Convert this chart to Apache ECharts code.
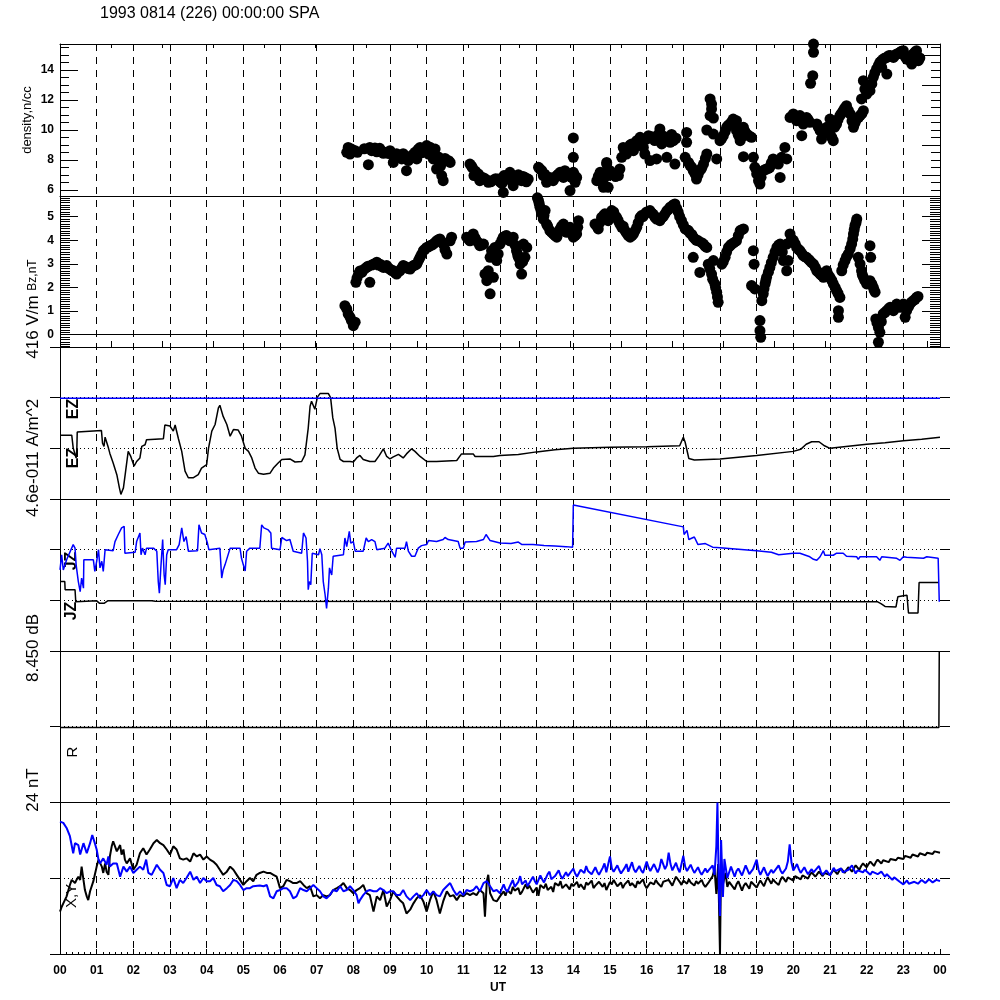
<!DOCTYPE html>
<html><head><meta charset="utf-8">
<script src="https://cdn.jsdelivr.net/npm/echarts@6/dist/echarts.min.js"></script>
<style>html,body{margin:0;padding:0;background:#fff}#c{width:1000px;height:1000px}</style>
</head><body><div id="c"></div>
<script>
const titleText = '1993 0814 (226) 00:00:00 SPA';
const hourLabels = ['00','01','02','03','04','05','06','07','08','09','10','11','12','13','14','15','16','17','18','19','20','21','22','23','00'];
const densityTicks = [6,8,10,12,14];
const densityRightTicks = [7,9,11,13,15];
const bzTicks = [0,1,2,3,4,5];

const densityData = [
[7.82,8.51],[7.86,8.84],[7.91,8.40],[7.95,8.73],[8.05,8.62],[8.11,8.51],[8.41,7.69],
[8.45,8.84],[8.50,8.62],[8.59,8.80],[8.68,8.67],[8.77,8.58],[8.86,8.51],[8.95,8.44],[9.05,8.40],[9.09,7.84],[9.14,8.29],[9.23,8.18],[9.32,8.07],[9.41,8.18],[9.45,7.29],[9.50,7.96],[9.59,8.29],[9.68,8.51],[9.73,8.07],[9.82,8.84],[9.91,8.62],[10.00,8.96],[10.05,8.40],[10.14,8.62],[10.18,8.07],[10.23,8.73],[10.27,7.40],[10.35,7.84],[10.41,6.96],[10.45,6.62],[10.55,7.96],[10.64,7.84],
[8.30,8.75],[8.55,8.72],[8.64,8.55],[8.72,8.78],[8.82,8.45],[9.00,8.62],[9.18,8.42],[9.27,8.30],[9.36,8.42],[9.55,8.15],[9.64,8.38],[9.77,8.72],[9.86,8.48],[9.95,8.80],[10.09,8.85],[10.20,8.50],[10.32,8.20],[10.38,7.60],[10.50,8.10],[10.60,7.95],
[11.18,7.73],[11.25,7.47],[11.29,6.96],[11.41,7.07],[11.45,6.62],[11.56,6.80],[11.68,6.51],[11.82,6.67],[11.95,6.73],[12.05,6.44],[12.09,5.84],[12.11,6.96],[12.23,6.84],[12.27,7.18],[12.36,6.29],[12.41,6.73],[12.50,7.02],[12.59,6.62],[12.68,6.84],[12.77,6.73],
[11.22,7.60],[11.33,7.25],[11.38,6.90],[11.50,6.85],[11.62,6.70],[11.75,6.55],[11.88,6.75],[12.00,6.55],[12.16,6.70],[12.32,6.75],[12.46,6.85],[12.55,6.70],[12.63,6.90],[12.72,6.55],
[13.05,7.51],[13.14,7.29],[13.18,6.96],[13.27,6.51],[13.36,6.84],[13.45,6.62],[13.55,6.96],[13.64,7.18],[13.73,6.84],[13.77,7.29],[13.86,6.96],[13.91,5.96],[14.00,7.18],[14.05,6.51],[14.09,6.84],[14.00,8.18],[14.00,9.47],
[13.09,7.40],[13.22,7.05],[13.32,6.70],[13.41,6.75],[13.50,6.85],[13.59,7.05],[13.68,6.95],[13.82,7.10],[13.95,6.85],[14.03,7.00],
[14.64,6.62],[14.73,7.18],[14.82,6.18],[14.91,7.73],[14.95,6.96],
[14.77,6.84],[14.82,6.40],[14.86,6.96],[14.95,6.18],[15.00,7.29],[15.09,7.07],[14.91,7.84],[15.23,6.96],
[14.68,6.90],[14.78,6.55],[14.87,7.20],[15.05,7.15],[15.15,6.90],[15.27,7.40],
[15.32,8.18],[15.36,8.84],[15.45,8.40],[15.59,9.07],[15.64,8.62],[15.73,9.29],[15.82,9.51],[15.91,8.84],[15.95,8.40],[16.05,9.62],[16.09,7.96],[16.18,9.51],[16.27,8.07],[16.36,10.07],[16.41,9.07],[16.50,9.40],[16.55,8.18],[16.64,9.18],[16.73,9.29],[16.77,7.73],
[15.40,8.60],[15.50,8.80],[15.55,9.00],[15.68,8.90],[15.77,9.20],[15.86,9.30],[16.00,9.40],[16.13,9.55],[16.22,9.30],[16.32,9.70],[16.45,9.60],[16.60,9.50],[16.68,9.70],[16.80,9.45],
[17.09,9.84],[17.09,9.18],[17.05,8.18],[17.14,7.84],[17.23,7.51],[17.32,7.07],[17.36,6.73],[17.45,7.29],[17.55,7.73],[17.64,8.40],
[17.18,7.65],[17.27,7.30],[17.40,7.00],[17.50,7.45],[17.60,8.10],
[17.73,12.07],[17.77,11.73],[17.77,11.40],[17.73,10.96],[17.82,10.80],[17.64,10.00],[17.82,9.73],[17.91,8.07],
[18.00,9.29],[18.09,9.62],[18.18,10.18],[18.27,10.40],[18.36,10.73],[18.45,9.96],[18.55,9.29],[18.64,10.18],[18.73,9.73],[18.86,9.51],[18.64,8.22],[18.45,10.62],
[18.05,9.45],[18.14,9.90],[18.22,10.30],[18.32,10.55],[18.40,10.35],[18.50,9.65],[18.60,9.55],[18.68,9.90],[18.80,9.60],
[18.91,8.18],[18.95,7.51],[19.00,7.07],[19.05,6.62],[19.09,6.40],[19.18,7.29],[19.27,7.40],[19.36,7.51],[19.45,8.07],[19.59,7.73],[19.64,6.84],[19.68,8.18],[19.77,8.84],[19.82,8.07],
[19.12,6.85],[19.22,7.35],[19.32,7.45],[19.40,7.80],[19.50,7.90],
[19.91,10.84],[20.00,11.07],[20.09,10.62],[20.18,10.96],[20.27,10.40],[20.36,10.84],[20.45,10.51],[20.23,9.62],
[19.95,10.90],[20.05,10.85],[20.14,10.75],[20.32,10.60],[20.40,10.70],
[20.55,15.73],[20.55,15.18],[20.53,13.62],[20.47,13.11],
[20.64,10.40],[20.73,9.96],[20.77,9.40],[20.91,10.18],[21.00,9.73],[21.09,9.29],[21.00,10.73],[21.18,10.40],[21.27,10.96],[21.36,11.29],[21.45,11.62],[21.55,11.07],[21.64,10.18],[21.73,10.73],[21.82,10.96],[21.91,11.29],
[20.68,10.20],[20.82,9.80],[20.87,10.00],[20.95,9.90],[21.05,9.50],[21.13,10.20],[21.22,10.70],[21.31,11.10],[21.40,11.45],[21.50,11.30],[21.60,10.60],[21.68,10.45],[21.78,10.85],[21.87,11.10],
[21.86,12.07],[21.95,12.73],[21.91,13.29],[22.00,12.40],[22.09,12.62],[22.14,13.07],[22.18,13.51],
[22.27,14.07],[22.36,14.51],[22.45,14.73],[22.55,14.84],[22.64,14.96],[22.73,14.84],[22.82,15.07],[22.91,15.18],[23.00,15.29],[23.09,14.73],[23.18,14.84],[23.27,15.07],[23.36,15.29],[23.41,14.62],[23.23,14.40],[22.55,13.73],[22.41,14.18],
[22.22,13.80],[22.32,14.30],[22.40,14.60],[22.50,14.80],[22.60,14.95],[22.68,14.90],[22.78,15.00],[22.87,15.10],[22.95,15.25],[23.05,14.90],[23.14,14.70],[23.22,14.95],[23.32,15.20],[23.45,14.80]
];

const bzData = [
[7.77,1.23],[7.82,1.09],[7.86,0.88],[7.91,0.74],[7.95,0.60],[8.00,0.38],[8.05,0.53],
[8.07,2.22],[8.14,2.57],[8.23,2.64],[8.36,2.85],[8.45,2.22],[8.55,2.99],[8.64,3.07],[8.73,2.99],[8.82,2.85],[8.91,2.93],[9.00,2.78],[9.09,2.71],[9.18,2.57],[9.27,2.71],[9.36,2.93],[9.45,2.85],[9.55,2.78],[9.64,2.93],[9.73,2.99],[9.82,3.28],[9.91,3.56],[10.00,3.70],[10.09,3.77],[10.18,3.84],[10.27,3.98],[10.36,4.06],[10.45,3.84],[10.55,3.42],[10.64,3.98],[10.68,4.13],
[8.10,2.40],[8.18,2.70],[8.30,2.78],[8.40,2.90],[8.50,2.95],[8.60,3.02],[8.68,2.95],[8.78,2.90],[8.86,2.88],[8.95,2.82],[9.05,2.72],[9.14,2.62],[9.22,2.66],[9.32,2.82],[9.40,2.90],[9.50,2.80],[9.60,2.88],[9.68,2.95],[9.78,3.15],[9.86,3.40],[9.95,3.62],[10.05,3.72],[10.14,3.80],[10.23,3.90],[10.32,4.02],[10.40,3.95],[10.50,3.60],
[11.09,4.13],[11.18,3.98],[11.27,4.27],[11.36,3.98],[11.45,3.77],[11.55,3.84],
[11.14,4.05],[11.23,4.15],[11.32,4.10],[11.41,3.90],[11.50,3.80],
[11.59,2.57],[11.64,2.29],[11.68,2.43],[11.73,1.73],[11.82,2.43],[11.68,2.71],[11.73,3.28],[11.77,3.56],[11.86,3.70],[11.91,3.14],[11.95,3.42],[12.00,3.84],[12.09,4.13],[12.18,4.20],[12.27,3.98],[12.36,4.13],[12.45,3.56],[12.50,3.28],[12.55,2.99],[12.59,2.57],[12.68,3.28],[12.73,3.70],[12.64,3.84],
[12.05,4.00],[12.14,4.18],[12.23,4.05],[12.32,4.02],[12.41,3.80],[12.48,3.40],[12.62,3.10],
[13.05,5.68],[13.09,5.40],[13.14,5.12],[13.18,4.90],[13.23,5.26],[13.27,4.69],[13.36,4.41],[13.45,4.27],[13.55,4.13],[13.64,4.48],[13.73,4.69],[13.82,4.34],[13.91,4.55],[14.00,4.13],[14.09,4.27],[14.14,4.83],
[13.02,5.80],[13.07,5.55],[13.12,5.25],[13.20,5.05],[13.30,4.60],[13.40,4.35],[13.50,4.20],[13.59,4.30],[13.68,4.60],[13.77,4.50],[13.86,4.45],[13.95,4.30],[14.05,4.20],[14.12,4.55],
[14.59,4.69],[14.68,4.48],[14.77,4.97],[14.86,5.12],[14.95,4.83],
[15.05,5.26],[15.18,4.97],[15.27,4.69],[15.41,4.41],[15.55,4.13],[15.64,4.27],[15.73,4.55],[15.82,4.97],[15.95,5.12],[16.09,5.26],[16.23,4.97],[16.36,4.83],[16.50,5.12],[16.64,5.40],[16.77,5.54],[16.86,5.19],
[14.64,4.60],[14.72,4.75],[14.82,5.05],[14.90,5.00],[15.00,5.15],[15.10,5.20],[15.14,5.05],[15.22,4.85],[15.32,4.55],[15.36,4.60],[15.45,4.30],[15.50,4.20],[15.60,4.20],[15.68,4.40],[15.77,4.75],[15.86,5.05],[15.90,5.00],[16.00,5.20],[16.14,5.15],[16.18,5.10],[16.27,4.90],[16.32,4.95],[16.41,4.95],[16.45,5.00],[16.55,5.25],[16.59,5.30],[16.70,5.45],[16.72,5.50],[16.82,5.35],[16.90,5.00],
[16.95,4.83],[17.05,4.48],[17.14,4.41],[17.27,4.13],[17.41,3.98],[17.55,3.84],[17.64,3.70],[17.27,3.28],[17.45,2.64],
[17.00,4.65],[17.09,4.45],[17.18,4.30],[17.23,4.25],[17.32,4.05],[17.36,4.00],[17.50,3.90],[17.59,3.75],
[17.68,2.99],[17.77,2.57],[17.86,2.15],[17.91,1.80],[17.95,1.37],[17.82,3.14],
[17.72,2.80],[17.80,2.35],[17.88,2.00],[17.93,1.60],
[18.05,2.99],[18.14,3.28],[18.23,3.70],[18.32,3.84],[18.45,3.98],[18.55,4.41],[18.64,4.48],
[18.09,3.10],[18.18,3.50],[18.28,3.78],[18.38,3.90],[18.50,4.20],[18.60,4.45],
[18.91,3.56],[18.93,2.99],[18.86,2.08],[18.95,1.94],[19.09,0.60],[19.09,0.17],[19.11,-0.11],[19.14,1.44],[19.18,1.73],[19.23,2.15],[19.27,2.43],[19.36,2.85],[19.45,3.28],[19.55,3.70],[19.64,3.84],[19.73,3.14],[19.82,3.84],[19.86,3.14],[19.82,2.71],[19.91,4.27],[19.95,4.06],
[19.20,1.95],[19.25,2.30],[19.32,2.65],[19.40,3.05],[19.50,3.50],[19.60,3.80],[19.70,3.50],
[20.09,3.70],[20.18,3.56],[20.27,3.35],[20.36,3.28],[20.45,3.14],[20.55,2.99],[20.64,2.71],[20.73,2.57],[20.82,2.43],[20.91,2.71],[21.00,2.43],[21.09,2.15],[21.18,1.87],[21.27,1.58],[21.23,1.02],[21.23,0.74],
[20.00,4.00],[20.05,3.85],[20.14,3.62],[20.23,3.45],[20.32,3.30],[20.41,3.20],[20.50,3.05],[20.60,2.85],[20.68,2.65],[20.78,2.50],[20.86,2.55],[20.95,2.55],[21.05,2.30],[21.14,2.00],[21.22,1.75],
[21.32,2.71],[21.41,3.14],[21.50,3.42],[21.59,3.84],[21.64,4.27],[21.68,4.62],[21.73,4.90],
[21.36,2.95],[21.45,3.30],[21.55,3.65],[21.62,4.05],[21.66,4.45],[21.71,4.75],
[21.77,3.28],[21.86,2.71],[21.91,2.43],[22.00,2.15],[22.09,2.29],[22.18,2.01],[22.23,1.80],[22.09,3.77],[22.11,3.28],
[21.82,3.00],[21.88,2.55],[21.95,2.30],[22.05,2.20],[22.14,2.15],[22.20,1.90],
[22.25,0.67],[22.32,0.31],[22.36,0.10],[22.32,-0.32],[22.45,0.88],[22.55,1.02],[22.64,1.16],[22.73,1.02],[22.82,1.30],[22.91,1.16],[23.00,1.30],[23.09,1.02],[23.18,1.30],[23.27,1.44],[23.36,1.58],[23.05,0.74],
[22.28,0.50],[22.40,0.55],[22.50,0.95],[22.60,1.10],[22.68,1.10],[22.78,1.15],[22.86,1.25],[22.95,1.22],[23.04,1.15],[23.14,1.18],[23.22,1.38],[23.32,1.50],[23.40,1.62]
];

const ezBlack = [
[0,1.26],[0.32,1.26],[0.36,1.01],[0.41,0.88],[0.44,0.81],[0.46,1.0],[0.47,1.32],[0.5,1.35],[1.13,1.35],[1.16,1.1],[1.2,1.04],[1.23,1.22],[1.27,1.19],[1.32,1.01],[1.36,0.9],[1.45,0.71],[1.55,0.48],[1.62,0.22],[1.66,0.09],[1.73,0.22],[1.79,0.55],[1.86,0.94],[1.93,0.84],[2.02,0.65],[2.09,0.74],[2.18,0.81],[2.23,1.04],[2.32,1.07],[2.36,1.17],[2.82,1.19],[2.86,1.46],[3.0,1.44],[3.09,1.34],[3.14,1.46],[3.23,1.19],[3.32,0.94],[3.41,0.55],[3.5,0.42],[3.64,0.42],[3.77,0.48],[3.86,0.61],[4.0,0.68],[4.05,1.0],[4.14,1.34],[4.23,1.47],[4.32,1.8],[4.36,1.85],[4.41,1.83],[4.45,1.63],[4.55,1.47],[4.64,1.24],[4.73,1.37],[4.86,1.36],[4.95,1.24],[5.05,1.0],[5.14,0.94],[5.23,0.81],[5.32,0.61],[5.41,0.51],[5.55,0.49],[5.73,0.51],[5.82,0.61],[5.95,0.71],[6.05,0.78],[6.27,0.79],[6.41,0.73],[6.59,0.74],[6.68,0.87],[6.77,1.4],[6.82,1.83],[6.86,1.93],[6.95,1.77],[7.02,2.01],[7.09,2.08],[7.32,2.08],[7.38,2.0],[7.44,1.6],[7.5,1.4],[7.56,1.0],[7.64,0.78],[7.73,0.74],[7.91,0.74],[8.0,0.73],[8.09,0.81],[8.18,0.86],[8.27,0.78],[8.45,0.74],[8.59,0.74],[8.71,0.86],[8.82,0.99],[8.91,0.84],[9.0,0.79],[9.09,0.83],[9.23,0.88],[9.36,0.81],[9.45,0.89],[9.59,0.99],[9.68,0.94],[9.82,0.84],[10.0,0.74],[10.27,0.74],[10.82,0.76],[10.95,0.89],[11.27,0.89],[11.32,0.84],[11.82,0.84],[12.0,0.86],
[12.5,0.88],[13.0,0.93],[13.5,0.97],[14.0,1.0],[15.0,1.02],[16.0,1.03],[16.9,1.05],[17.0,1.22],[17.05,1.12],[17.15,0.8],[17.3,0.77],[18.0,0.79],[19.0,0.86],[20.0,0.94],[20.2,0.98],[20.35,1.08],[20.5,1.13],[20.7,1.13],[20.85,1.05],[21.0,1.0],[21.5,1.04],[22.0,1.08],[22.5,1.11],[23.0,1.15],[23.5,1.18],[24.0,1.22]
];
const ezBlue = [[0,1.99],[2.2,1.99],[2.21,2.01],[2.22,1.99],[7.6,1.99],[7.61,2.01],[7.62,1.99],[16.8,1.99],[16.81,2.01],[16.82,1.99],[24,1.99]];

const jzBlack = [[0,1.37],[0.13,1.37],[0.14,1.21],[0.41,1.21],[0.43,0.97],[1.0,0.99],[1.08,0.94],[1.2,0.94],[1.3,0.99],[2.5,0.99],[2.6,0.98],[22.3,0.97],[22.4,0.93],[22.5,0.88],[22.8,0.87],[22.85,1.07],[23.0,1.09],[23.1,1.1],[23.14,0.75],[23.4,0.75],[23.43,1.35],[23.97,1.35]];
const jzBlue = [
[0,1.6],[0.045,1.9],[0.09,1.6],[0.18,1.8],[0.36,2.1],[0.41,2.03],[0.44,1.7],[0.5,1.37],[0.55,1.17],[0.59,1.44],[0.64,1.24],[0.65,1.8],[0.91,1.8],[0.95,1.57],[1.0,1.77],[1.05,2.0],[1.09,1.64],[1.14,1.77],[1.18,1.57],[1.23,2.0],[1.45,1.98],[1.5,2.16],[1.59,2.3],[1.68,2.43],[1.75,2.46],[1.77,1.93],[2.05,1.95],[2.09,2.16],[2.18,2.33],[2.21,1.9],[2.25,2.03],[2.32,1.9],[2.36,2.03],[2.55,2.03],[2.64,1.97],[2.68,1.37],[2.71,1.14],[2.75,1.64],[2.8,2.2],[2.84,1.5],[2.87,1.31],[2.91,1.9],[2.95,2.0],[3.18,2.0],[3.25,2.1],[3.32,2.43],[3.38,2.16],[3.44,2.26],[3.5,1.97],[3.75,1.98],[3.79,2.49],[3.86,2.33],[3.95,2.3],[4.02,2.13],[4.06,2.0],[4.36,2.03],[4.41,1.44],[4.45,1.6],[4.5,1.7],[4.64,2.03],[4.91,2.03],[4.95,1.83],[5.0,1.7],[5.05,1.58],[5.09,1.97],[5.18,2.03],[5.45,2.03],[5.5,2.49],[5.56,2.43],[5.68,2.39],[5.75,2.33],[5.77,2.03],[6.0,2.0],[6.05,2.24],[6.18,2.18],[6.27,2.2],[6.36,1.97],[6.59,1.93],[6.64,2.33],[6.71,2.23],[6.75,1.77],[6.77,1.21],[6.8,1.37],[6.84,1.31],[6.88,1.93],[7.05,1.9],[7.09,2.02],[7.14,1.9],[7.18,1.37],[7.23,1.11],[7.27,0.84],[7.32,1.24],[7.35,1.64],[7.41,1.5],[7.45,1.87],[7.73,1.9],[7.77,2.23],[7.82,2.06],[7.89,2.36],[7.93,2.13],[8.0,2.16],[8.05,1.97],[8.27,1.97],[8.35,2.23],[8.41,2.16],[8.5,2.2],[8.59,2.16],[8.64,2.0],[8.86,2.03],[8.95,2.13],[9.05,1.97],[9.14,1.85],[9.18,2.03],[9.41,2.03],[9.45,2.16],[9.5,1.97],[9.59,1.87],[9.68,1.87],[9.77,2.03],[9.86,2.08],[10.0,2.1],[10.05,2.18],[10.27,2.16],[10.45,2.2],[10.5,2.24],[10.59,2.2],[10.86,2.16],[10.91,2.03],[11.0,2.03],[11.05,2.15],[11.36,2.16],[11.55,2.2],[11.62,2.3],[11.73,2.18],[12.0,2.13],
[12.3,2.12],[12.5,2.15],[12.6,2.1],[12.9,2.1],[13.2,2.08],[13.5,2.07],[13.8,2.06],[13.98,2.05],[14.0,2.88],[17.0,2.45],[17.02,2.3],[17.1,2.38],[17.15,2.2],[17.3,2.25],[17.4,2.1],[17.6,2.12],[17.8,2.05],[18.0,2.04],[18.5,2.01],[19.0,1.98],[19.4,1.95],[19.6,1.9],[20.0,1.93],
[20.18,1.93],[20.45,1.86],[20.55,1.81],[20.64,1.79],[20.73,1.86],[20.82,1.98],[20.86,1.89],[21.09,1.89],[21.18,1.93],[21.36,1.93],[21.45,1.87],[21.73,1.86],[21.77,1.81],[21.82,1.86],[22.27,1.86],[22.36,1.79],[22.41,1.86],[22.82,1.83],[22.91,1.79],[23.0,1.86],[23.09,1.85],[23.55,1.83],[23.64,1.86],[23.95,1.83],[23.98,0.97]
];

const rData = [[0,-0.05],[6,-0.06],[12,-0.05],[18,-0.06],[23.97,-0.05],[23.98,4.2]];

const xBlack = [
[0,-5.3],[0.05,-4.5],[0.09,-4.0],[0.18,-2.9],[0.23,-1.9],[0.27,-1.1],[0.32,-0.3],[0.36,0.0],[0.41,-0.8],[0.45,-0.3],[0.5,0.2],[0.55,-0.3],[0.59,1.8],[0.64,-0.3],[0.68,-1.9],[0.73,-2.9],[0.77,-3.5],[0.82,-2.1],[0.91,-0.5],[0.95,0.5],[1.0,1.8],[1.05,2.9],[1.09,3.1],[1.14,1.8],[1.18,0.8],[1.23,2.3],[1.27,1.0],[1.32,0.5],[1.36,3.4],[1.41,5.0],[1.45,5.8],[1.5,5.5],[1.55,4.2],[1.59,4.5],[1.64,5.2],[1.68,3.7],[1.73,4.5],[1.77,2.9],[1.82,2.3],[1.91,3.1],[2.0,1.3],[2.09,2.1],[2.18,3.9],[2.27,4.7],[2.36,3.7],[2.45,4.5],[2.55,5.5],[2.64,6.0],[2.73,5.5],[2.82,5.2],[2.91,4.5],[3.0,3.7],[3.09,5.0],[3.18,4.5],[3.27,3.1],[3.36,2.9],[3.45,3.1],[3.55,2.6],[3.64,3.9],[3.73,3.4],[3.82,3.7],[3.91,2.9],[4.0,3.4],[4.09,2.9],[4.18,2.6],[4.27,2.1],[4.36,1.3],[4.45,0.5],[4.55,1.0],[4.64,1.8],[4.73,1.3],[4.82,0.5],[4.91,-0.3],[5.0,-1.1],[5.09,-0.5],[5.18,0.0],[5.27,-0.5],[5.36,0.5],[5.45,0.8],[5.55,1.0],[5.64,0.8],[5.73,0.8],[5.82,0.5],[5.91,0.2],[6.0,-1.6],[6.09,-1.3],[6.18,-0.3],[6.27,-0.5],[6.36,-0.8],[6.45,-0.8],[6.55,-0.5],[6.64,-1.1],[6.73,-1.6],[6.82,-1.3],[6.91,-2.9],[7.0,-2.7],[7.09,-3.2],[7.18,-2.7],[7.27,-2.9],[7.36,-2.7],[7.45,-1.9],[7.55,-1.6],[7.64,-1.3],[7.73,-0.8],[7.82,-1.6],[7.91,-1.9],[8.0,-2.4],[8.09,-1.9],[8.18,-1.6],[8.27,-1.1],[8.36,-2.4],[8.45,-2.7],[8.55,-5.3],[8.64,-2.9],[8.73,-3.5],[8.82,-1.9],[8.91,-4.5],[9.0,-3.5],[9.09,-2.1],[9.18,-2.9],[9.27,-3.5],[9.36,-4.0],[9.45,-5.6],[9.55,-5.0],[9.64,-4.0],[9.73,-3.2],[9.82,-2.7],[9.91,-3.7],[10.0,-5.3],[10.09,-3.5],[10.18,-2.1],[10.27,-3.5],[10.36,-5.6],[10.45,-3.7],[10.55,-2.1],[10.64,-2.9],[10.73,-2.7],[10.82,-3.5],[10.91,-2.7],[11.0,-2.9],[11.09,-2.4],[11.18,-2.7],[11.27,-2.4],[11.36,-2.7],[11.45,-1.9],[11.55,-2.4],[11.59,-6.1],[11.64,-0.5],[11.68,0.5],[11.73,-2.4],[11.82,-3.5],[11.91,-3.7],[12.0,-2.9],
[12.1,-2.1],[12.15,-2.8],[12.2,-1.9],[12.3,-2.5],[12.35,-1.4],[12.4,-2.0],[12.5,-1.6],[12.55,-2.6],[12.6,-2.2],[12.7,-1.0],[12.75,-1.7],[12.8,-1.2],[12.9,-2.3],[13.0,-1.5],[13.05,-2.8],[13.1,-1.1],[13.2,-1.6],[13.25,-0.9],[13.3,-1.9],[13.4,-1.4],[13.45,-2.2],[13.5,-0.8],[13.6,-1.2],[13.65,-0.5],[13.7,-1.6],[13.8,-1.0],[13.9,-1.8],[13.95,-0.9],[14.0,-1.3],[14.1,-0.6],[14.15,-1.5],[14.2,-1.0],[14.3,-1.8],[14.35,-0.7],[14.4,-1.1],[14.5,-0.4],[14.55,-1.6],[14.6,-1.2],[14.7,-0.6],[14.8,-1.4],[14.85,-0.8],[14.9,-1.9],[15.0,-0.6],[15.05,-1.0],[15.1,-0.3],[15.2,-1.3],[15.3,-0.7],[15.35,-1.6],[15.4,-1.0],[15.5,-0.4],[15.55,-1.2],[15.6,-0.8],[15.7,-1.5],[15.75,-0.5],[15.8,-0.9],[15.9,-0.2],[15.95,-1.1],[16.0,-1.6],[16.1,-0.7],[16.2,-1.0],[16.25,-0.3],[16.3,-0.8],[16.4,-1.4],[16.45,-0.6],[16.5,-0.9],[16.6,-0.3],[16.7,-1.2],[16.75,-0.5],[16.8,0.2],[16.9,-0.6],[16.95,-1.1],[17.0,-0.4],[17.1,-0.9],[17.15,-0.2],[17.2,-0.7],[17.3,-1.2],[17.35,-0.5],[17.4,-0.9],[17.5,-0.3],[17.55,-1.0],[17.6,-1.4],[17.7,-0.6],[17.8,0.3],
[17.85,1.5],[17.9,-2.5],[17.95,2.2],[18.0,-12.0],[18.03,3.0],[18.08,-1.0],[18.15,0.8],
[18.2,-1.4],[18.25,-0.6],[18.3,-0.9],[18.4,-1.8],[18.45,-1.0],[18.5,-0.5],[18.6,-2.0],[18.65,-1.2],[18.7,-0.8],[18.8,-1.7],[18.85,-0.6],[18.9,-0.3],[19.0,-1.5],[19.05,-0.9],[19.1,-0.4],[19.2,-1.3],[19.25,-0.5],[19.3,0.1],[19.4,-0.9],[19.45,-0.2],[19.5,-0.6],[19.6,-1.1],[19.65,-0.3],[19.7,0.2],[19.8,-0.6],[19.85,0.1],[19.9,0.4],[20.0,-0.4],[20.05,0.3],[20.1,0.6],[20.2,-0.2],[20.25,0.4],[20.3,0.7],[20.4,-0.1],[20.45,0.5],[20.5,0.9],[20.6,0.2],[20.65,0.6],[20.7,1.0],[20.8,0.3],[20.85,0.8],[20.9,1.1],[21.0,0.5],[21.05,0.9],[21.1,1.3],[21.2,0.6],[21.25,1.1],[21.3,1.5],[21.4,0.8],[21.45,1.3],[21.5,1.7],[21.6,1.0],[21.65,1.5],[21.7,2.0],[21.8,1.3],[21.85,1.9],[21.9,2.3],[22.0,1.7],[22.05,2.2],[22.1,2.6],[22.2,1.9],[22.25,2.5],[22.3,2.9],[22.4,2.3],[22.45,2.8],[22.5,3.1],[22.6,2.5],[22.65,3.0],[22.7,3.3],[22.8,2.8],[22.85,3.2],[22.9,3.5],[23.0,3.0],[23.05,3.5],[23.1,3.7],[23.2,3.2],[23.25,3.7],[23.3,3.9],[23.4,3.4],[23.45,3.9],[23.5,4.1],[23.6,3.6],[23.65,4.0],[23.7,4.2],[23.8,3.8],[23.85,4.2],[23.9,4.3],[24.0,4.0]
];
const yBlue = [
[0,8.9],[0.09,8.7],[0.18,7.9],[0.27,6.6],[0.36,3.9],[0.41,5.5],[0.5,5.2],[0.55,3.7],[0.64,5.5],[0.73,3.9],[0.82,5.5],[0.88,6.8],[0.95,5.5],[1.0,4.5],[1.05,2.9],[1.09,2.3],[1.18,3.1],[1.27,2.1],[1.32,3.4],[1.36,1.8],[1.45,2.3],[1.55,2.3],[1.64,0.2],[1.73,1.8],[1.82,1.0],[1.91,1.8],[2.0,0.8],[2.09,1.3],[2.18,1.8],[2.27,1.3],[2.35,2.9],[2.41,0.8],[2.5,0.5],[2.64,2.1],[2.73,1.3],[2.82,0.8],[2.91,-1.1],[3.0,-1.3],[3.09,0.0],[3.18,-1.6],[3.27,-0.3],[3.36,-0.8],[3.45,0.0],[3.55,1.0],[3.64,-0.3],[3.73,0.2],[3.82,-0.8],[3.91,0.0],[4.0,-0.5],[4.09,-0.5],[4.18,0.0],[4.27,-1.1],[4.36,-1.3],[4.45,-2.1],[4.55,-1.6],[4.64,-1.1],[4.73,-0.3],[4.82,-0.5],[4.91,-1.1],[5.0,-1.9],[5.09,-1.6],[5.18,-1.6],[5.27,-1.3],[5.45,-1.2],[5.55,-1.3],[5.64,-1.1],[5.73,-2.9],[5.82,-3.2],[5.91,-2.1],[6.0,-1.9],[6.09,-1.6],[6.18,-1.6],[6.27,-2.1],[6.36,-3.2],[6.45,-2.9],[6.55,-1.6],[6.64,-1.9],[6.73,-2.1],[6.82,-1.6],[6.91,-1.1],[7.0,-1.6],[7.09,-2.1],[7.18,-2.9],[7.27,-3.2],[7.36,-2.7],[7.45,-1.9],[7.55,-2.1],[7.64,-1.3],[7.73,-2.1],[7.82,-1.9],[7.91,-1.3],[8.0,-1.9],[8.09,-2.7],[8.14,-4.0],[8.18,-3.5],[8.27,-2.7],[8.36,-2.1],[8.45,-1.9],[8.55,-2.1],[8.64,-2.1],[8.73,-1.6],[8.82,-1.9],[8.91,-2.4],[9.0,-2.1],[9.09,-2.1],[9.18,-2.7],[9.27,-2.7],[9.36,-1.9],[9.45,-2.9],[9.55,-3.5],[9.64,-2.9],[9.73,-2.4],[9.82,-3.2],[9.91,-2.7],[10.0,-1.9],[10.09,-2.7],[10.18,-2.1],[10.27,-2.7],[10.36,-2.9],[10.45,-1.9],[10.55,-1.3],[10.64,-0.8],[10.73,-1.9],[10.82,-2.7],[10.91,-2.1],[11.0,-2.7],[11.09,-1.9],[11.18,-2.1],[11.27,-1.9],[11.36,-1.3],[11.45,-2.1],[11.55,-0.8],[11.64,-0.5],[11.73,-1.3],[11.82,-2.1],[11.91,-1.9],[12.0,-2.4],
[12.1,-1.0],[12.15,-1.8],[12.2,-2.2],[12.3,-0.9],[12.35,-0.3],[12.4,-1.4],[12.5,-0.6],[12.55,0.3],[12.6,-1.0],[12.7,-0.4],[12.75,-1.3],[12.8,-0.8],[12.9,0.2],[12.95,-0.5],[13.0,-1.0],[13.1,0.4],[13.15,-0.2],[13.2,-0.7],[13.3,0.6],[13.35,1.0],[13.4,-0.2],[13.5,0.3],[13.6,1.2],[13.65,0.4],[13.7,-0.1],[13.8,0.9],[13.85,0.3],[13.9,0.6],[14.0,1.5],[14.05,0.7],[14.1,0.2],[14.2,1.3],[14.3,0.8],[14.35,1.9],[14.4,1.1],[14.5,0.6],[14.6,1.7],[14.65,1.0],[14.7,0.5],[14.8,1.6],[14.85,2.3],[14.9,0.9],[15.0,3.4],[15.05,1.5],[15.1,1.0],[15.2,2.0],[15.25,1.3],[15.3,0.7],[15.4,1.6],[15.45,2.2],[15.5,1.0],[15.6,2.5],[15.65,1.4],[15.7,0.9],[15.8,1.9],[15.85,1.2],[15.9,0.8],[16.0,2.6],[16.05,1.7],[16.1,1.1],[16.2,2.2],[16.3,0.9],[16.35,1.6],[16.4,3.0],[16.5,1.4],[16.55,2.0],[16.6,4.0],[16.65,2.2],[16.7,1.2],[16.8,2.4],[16.85,1.5],[16.9,0.9],[17.0,3.5],[17.05,1.8],[17.1,1.1],[17.2,2.1],[17.25,1.4],[17.3,0.8],[17.4,1.7],[17.45,1.0],[17.5,0.5],[17.6,1.5],[17.65,0.9],[17.7,1.3],[17.8,2.0],
[17.85,0.5],[17.9,5.0],[17.93,11.9],[17.97,-2.0],[18.0,-6.0],[18.03,6.0],[18.08,-3.0],[18.12,3.0],
[18.2,0.0],[18.25,0.9],[18.3,1.8],[18.4,0.2],[18.45,1.1],[18.5,1.5],[18.6,0.4],[18.65,1.2],[18.7,2.0],[18.8,0.6],[18.85,1.0],[18.9,1.4],[19.0,2.9],[19.05,1.3],[19.1,0.5],[19.2,1.7],[19.25,0.9],[19.3,0.3],[19.4,1.3],[19.45,0.8],[19.5,0.6],[19.6,2.0],[19.65,1.2],[19.7,0.7],[19.8,1.5],[19.85,2.6],[19.9,5.3],[19.95,2.4],[20.0,1.2],[20.1,2.2],[20.15,1.4],[20.2,0.8],[20.3,1.7],[20.35,1.1],[20.4,0.6],[20.5,1.4],[20.55,0.9],[20.6,0.9],[20.7,1.9],[20.75,1.0],[20.8,0.5],[20.9,1.2],[20.95,0.8],[21.0,0.4],[21.1,1.6],[21.15,1.1],[21.2,0.8],[21.3,1.5],[21.35,0.9],[21.4,0.6],[21.5,1.3],[21.55,1.6],[21.6,2.0],[21.7,0.7],[21.75,1.2],[21.8,1.5],[21.9,0.9],[21.95,1.3],[22.0,1.6],[22.1,0.5],[22.15,1.0],[22.2,1.2],[22.3,0.6],[22.35,0.9],[22.4,1.0],[22.5,0.2],[22.55,0.6],[22.6,0.8],[22.7,-0.3],[22.75,0.1],[22.8,0.4],[22.9,-0.6],[23.0,-1.0],[23.1,-0.4],[23.15,-0.9],[23.2,-1.2],[23.3,-0.6],[23.4,-0.9],[23.5,-0.3],[23.6,-0.8],[23.7,-0.2],[23.8,-0.7],[23.9,-0.3],[24.0,-0.5]
];

// ---------------- layout -----------------
const FONT = '"Liberation Sans", Arial, sans-serif';
const K = '#000';
const BLUE = '#0000ff';
const GT = [44,196,347,499,651,802], GB = [196,347,499,651,802,954];
const grid = GT.map((t,i)=>({left:60,right:60,top:t,height:GB[i]-t,show:false}));
grid.push({left:60,right:60,top:44,height:910,show:false});

function range(a,b,s){const r=[];for(let v=a;v<=b+1e-9;v+=s)r.push(Math.round(v*1000)/1000);return r;}

const xAxis = [], yAxis = [], mainX = [], mainY = [];
for (let i=0;i<6;i++){
  mainX[i]=xAxis.length;
  xAxis.push({type:'value',gridIndex:i,position:'bottom',min:0,max:24,interval:1,
    axisLine:{show:true,onZero:false,lineStyle:{color:K,width:1}},
    axisTick:{show:i===5,inside:true,length:5,lineStyle:{color:K,width:1}},
    minorTick:{show:i===5,splitNumber:6,length:2,lineStyle:{color:K,width:1}},
    axisLabel:i===5?{show:true,margin:11,color:K,fontSize:12,fontWeight:'bold',fontFamily:FONT,showMinLabel:true,showMaxLabel:true,formatter:v=>hourLabels[Math.round(v)]}:{show:false},
    splitLine:{show:false}});
}
xAxis.push({type:'value',gridIndex:0,position:'top',min:0,max:24,
  axisLine:{show:true,onZero:false,lineStyle:{color:K,width:1}},axisTick:{show:false},axisLabel:{show:false},splitLine:{show:false}});
xAxis.push({type:'value',gridIndex:0,position:'top',min:0,max:880/51,interval:1,
  axisLine:{show:false,onZero:false},axisTick:{show:true,inside:true,length:4,lineStyle:{color:K}},axisLabel:{show:false},splitLine:{show:false}});
xAxis.push({type:'value',gridIndex:1,position:'bottom',min:0,max:880/51,interval:1,
  axisLine:{show:false,onZero:false},axisTick:{show:true,inside:true,length:6,lineStyle:{color:K}},axisLabel:{show:false},splitLine:{show:false}});
const dashX = xAxis.length;
xAxis.push({type:'value',gridIndex:6,position:'bottom',min:0,max:24,interval:1,
  axisLine:{show:false,onZero:false},axisTick:{show:false},axisLabel:{show:false},
  splitLine:{show:true,showMinLine:false,showMaxLine:false,lineStyle:{color:K,width:1,type:[7,6]}}});

function tickAxes(gi,min,max,pos,major,minor,majLen,minLen,labels){
  const idx=yAxis.length;
  yAxis.push({type:'value',gridIndex:gi,position:pos,min:min,max:max,
    axisLine:{show:true,onZero:false,lineStyle:{color:K,width:1}},
    axisTick:{show:true,inside:true,length:majLen,customValues:major,lineStyle:{color:K,width:1}},
    axisLabel:labels?{show:true,customValues:labels,margin:6,color:K,fontSize:12,fontWeight:'bold',fontFamily:FONT}:{show:false},
    splitLine:{show:false}});
  yAxis.push({type:'value',gridIndex:gi,position:pos,min:min,max:max,
    axisLine:{show:false,onZero:false},
    axisTick:{show:true,inside:true,length:minLen,customValues:minor,lineStyle:{color:K,width:1}},
    axisLabel:{show:false},splitLine:{show:false}});
  return idx;
}
const dMin=5.6, dMax=15.733;
mainY[0]=tickAxes(0,dMin,dMax,'left',densityTicks,range(6,15.5,0.5),18,9,densityTicks);
tickAxes(0,dMin,dMax,'right',densityRightTicks,range(6,15.5,0.5),18,9,null);
const bMin=-0.521, bMax=5.877;
mainY[1]=tickAxes(1,bMin,bMax,'left',bzTicks,range(-0.5,5.8,0.1),18,10,bzTicks);
tickAxes(1,bMin,bMax,'right',bzTicks,range(-0.5,5.8,0.1),18,10,null);

function plainAxes(gi,min,max,interval){
  const idx=yAxis.length;
  yAxis.push({type:'value',gridIndex:gi,position:'left',min:min,max:max,interval:interval,
    axisLine:{show:true,onZero:false,lineStyle:{color:K,width:1}},
    axisTick:{show:true,inside:false,length:10,lineStyle:{color:K,width:1}},
    axisLabel:{show:false},
    splitLine:{show:true,showMinLine:false,showMaxLine:false,lineStyle:{color:K,width:1,type:[1,3]}}});
  yAxis.push({type:'value',gridIndex:gi,position:'right',min:min,max:max,interval:interval,
    axisLine:{show:false,onZero:false},
    axisTick:{show:true,inside:false,length:10,lineStyle:{color:K,width:1}},
    axisLabel:{show:false},splitLine:{show:false}});
  return idx;
}
mainY[2]=plainAxes(2,0,3,1);
mainY[3]=plainAxes(3,0,3,1);
mainY[4]=plainAxes(4,-4.225,4.225,4.225);
mainY[5]=plainAxes(5,-12,12,12);
const dashY=yAxis.length;
yAxis.push({type:'value',gridIndex:6,min:0,max:1,show:false});

function lineS(p,data,color,w){
  return {type:'line',xAxisIndex:mainX[p],yAxisIndex:mainY[p],data:data,showSymbol:false,symbol:'none',
    lineStyle:{color:color,width:w,opacity:1},itemStyle:{color:color},silent:true,animation:false,z:3};
}

const series = [
  {type:'scatter',xAxisIndex:mainX[0],yAxisIndex:mainY[0],data:densityData,symbol:'circle',symbolSize:11,itemStyle:{color:K,opacity:1,borderWidth:0},silent:true,animation:false,z:3},
  {type:'scatter',xAxisIndex:mainX[1],yAxisIndex:mainY[1],data:bzData,symbol:'circle',symbolSize:11,itemStyle:{color:K,opacity:1,borderWidth:0},silent:true,animation:false,z:3,
    markLine:{silent:true,symbol:'none',animation:false,label:{show:false},lineStyle:{color:K,width:1,type:'solid'},data:[{yAxis:0}]}},
  lineS(2,ezBlack,K,1.5),
  lineS(2,ezBlue,BLUE,1.5),
  lineS(3,jzBlack,K,1.5),
  lineS(3,jzBlue,BLUE,1.5),
  lineS(4,rData,K,1.5),
  lineS(5,xBlack,K,2),
  lineS(5,yBlue,BLUE,2),
  {type:'line',xAxisIndex:dashX,yAxisIndex:dashY,data:[],silent:true}
];

function vtext(t,x,y,size,weight){
  return {type:'text',x:x,y:y,rotation:Math.PI/2,silent:true,
    style:{text:t,font:(weight||'normal')+' '+size+'px '+FONT,fill:K,align:'center',verticalAlign:'middle',textAlign:'center',textVerticalAlign:'middle'}};
}
const graphic = [
  {type:'text',x:100,y:14,silent:true,style:{text:titleText,font:'normal 16px '+FONT,fill:K,align:'left',verticalAlign:'middle',textAlign:'left',textVerticalAlign:'middle'}},
  vtext('density,n/cc',27,120,13),
  vtext('Bz,nT',33,275,12),
  vtext('416 V/m',33,327,17),
  vtext('4.6e-011 A/m^2',33,458,17),
  vtext('8.450 dB',33,648,17),
  vtext('24 nT',33,790,17),
  vtext('EZ',74,409,16,'bold'),
  vtext('EZ',74,458,16,'bold'),
  vtext('JZ',72,561,16,'bold'),
  vtext('JZ',72,611,16,'bold'),
  vtext('R',73,752,15),
  vtext('X,Y',72,896,15),
  {type:'text',x:498,y:988,silent:true,style:{text:'UT',font:'bold 12px '+FONT,fill:K,align:'center',verticalAlign:'middle',textAlign:'center',textVerticalAlign:'middle'}}
];

const chart = echarts.init(document.getElementById('c'),null,{renderer:'canvas'});
chart.setOption({animation:false,backgroundColor:'#fff',grid:grid,xAxis:xAxis,yAxis:yAxis,series:series,graphic:graphic});
</script></body></html>
